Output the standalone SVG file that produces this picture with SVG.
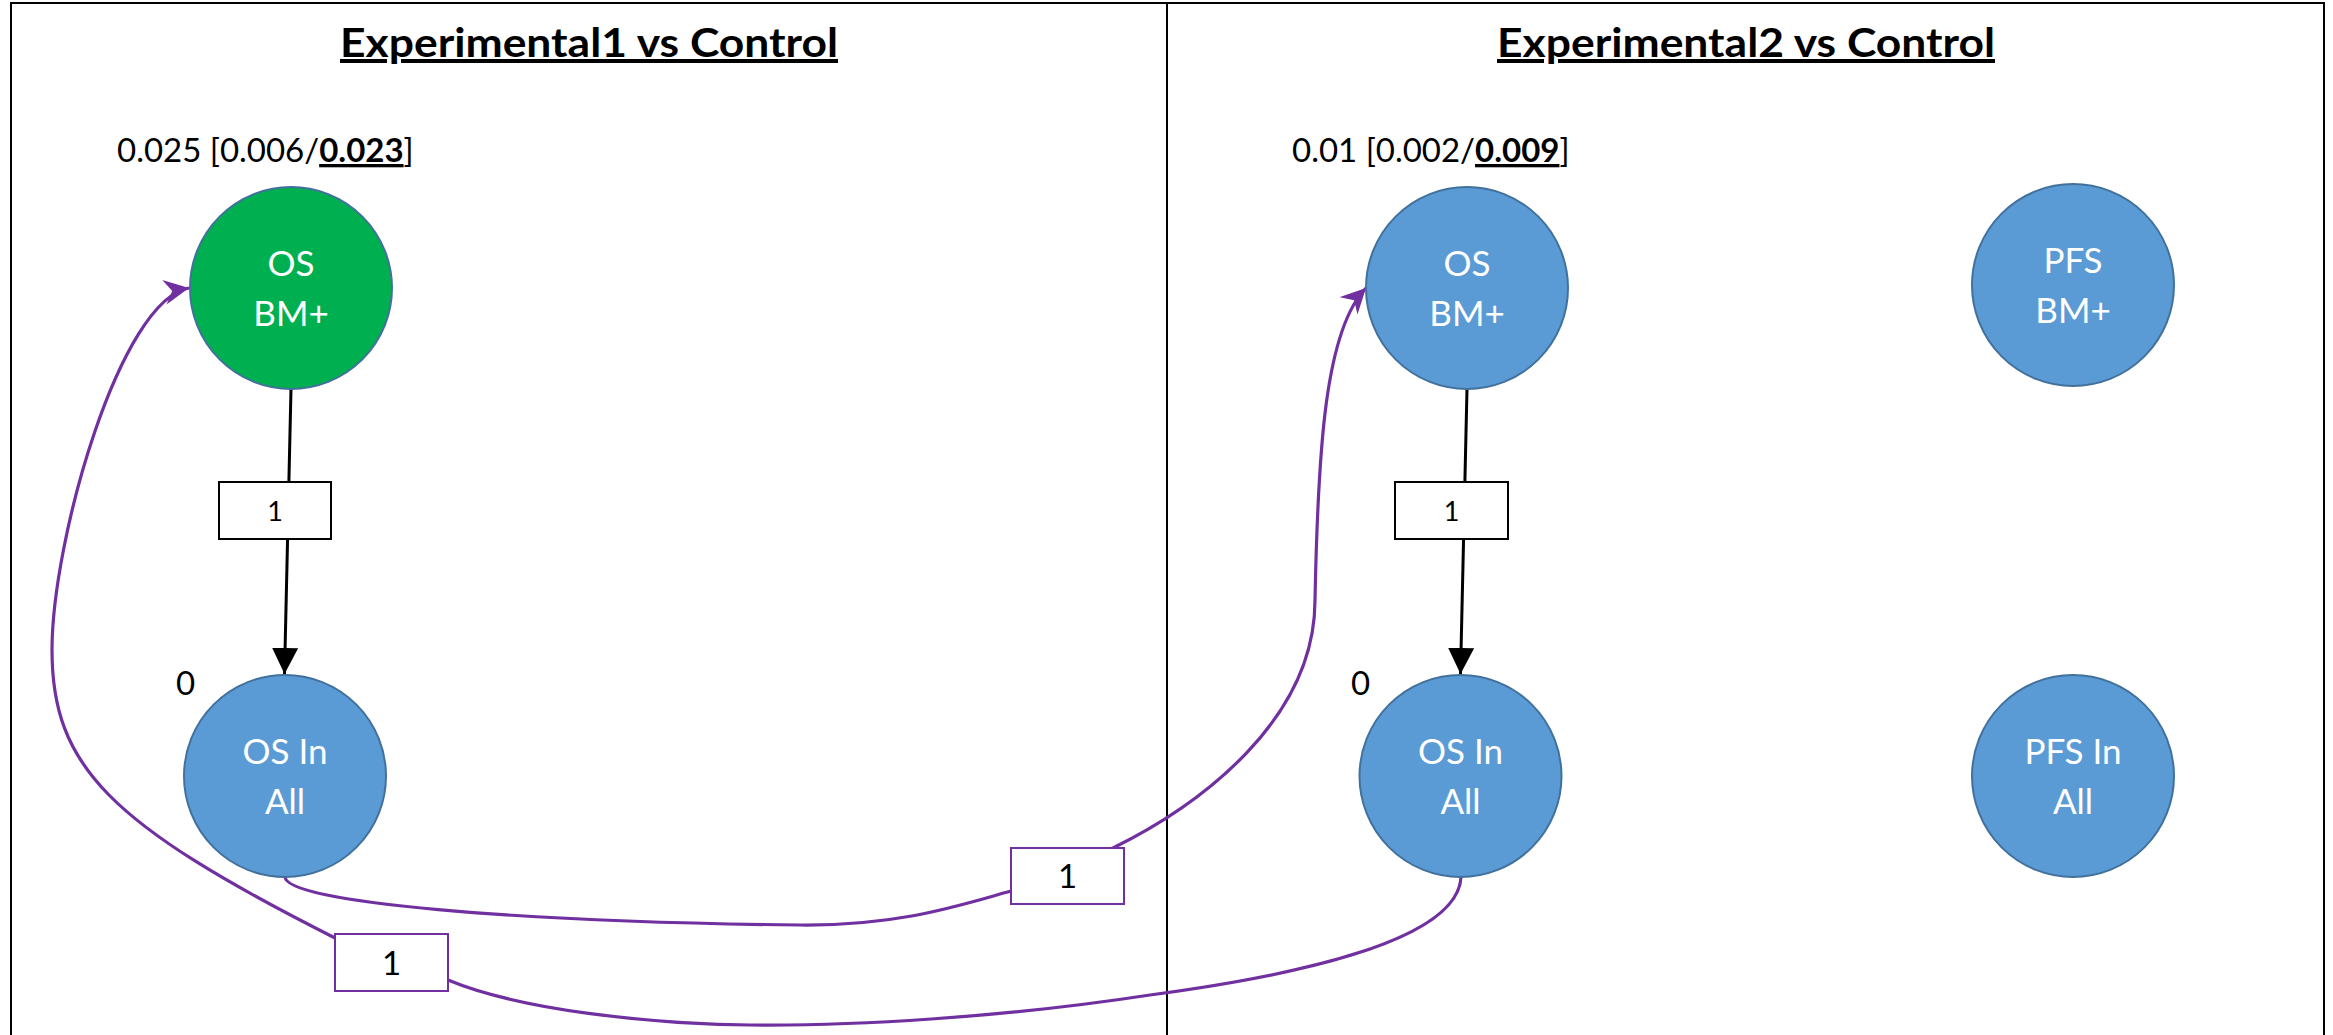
<svg xmlns="http://www.w3.org/2000/svg" width="2333" height="1035" viewBox="0 0 2333 1035">
<style>
.title{font-family:Lato,"Open Sans","Liberation Sans",sans-serif;font-weight:bold;font-size:40px;fill:#000;text-decoration:underline}
.ann{font-family:Lato,"Open Sans","Liberation Sans",sans-serif;font-size:33px;fill:#000}
.b{font-weight:bold;text-decoration:underline}
.node{stroke:#41719C;stroke-width:2}
.blue{fill:#5B9BD5}
.green{fill:#00B050}
.nt{font-family:Lato,"Open Sans","Liberation Sans",sans-serif;font-size:35px;fill:#fff;text-anchor:middle}
.blk{fill:none;stroke:#000;stroke-width:3}
.pur{fill:none;stroke:#7030A0;stroke-width:3.2}
.lb{fill:#fff;stroke:#000;stroke-width:2}
.lp{fill:#fff;stroke:#7030A0;stroke-width:2}
.lt{font-family:Lato,"Open Sans","Liberation Sans",sans-serif;font-size:27px;fill:#000;text-anchor:middle}
.lt2{font-family:Lato,"Open Sans","Liberation Sans",sans-serif;font-size:33px;fill:#000;text-anchor:middle}
.frame{stroke:#000;stroke-width:2;fill:none}
</style>
<defs>
<marker id="ab" markerUnits="userSpaceOnUse" markerWidth="26" markerHeight="26" viewBox="0 0 26 26" refX="26" refY="13" orient="auto">
<path d="M0,0 L26,13 L0,26 Z" fill="#000"/>
</marker>
<marker id="ap" markerUnits="userSpaceOnUse" markerWidth="26" markerHeight="26" viewBox="0 0 26 26" refX="25" refY="12.5" orient="auto">
<path d="M0,0 L25,12.5 L0,25 L8,12.5 Z" fill="#7030A0"/>
</marker>
</defs>
<rect width="2333" height="1035" fill="#fff"/>
<g id="frame">
<line class="frame" x1="11" y1="3" x2="2324" y2="3" stroke-width="3"/>
<line class="frame" x1="11" y1="2" x2="11" y2="1035"/>
<line class="frame" x1="1167" y1="2" x2="1167" y2="1035"/>
<line class="frame" x1="2324" y1="2" x2="2324" y2="1035"/>
</g>
<g id="titles">
<text class="title" x="340" y="57" textLength="498" lengthAdjust="spacingAndGlyphs">Experimental1 vs Control</text>
<text class="title" x="1497" y="57" textLength="498" lengthAdjust="spacingAndGlyphs">Experimental2 vs Control</text>
</g>
<g id="connectors">
<path class="blk" d="M291,389 L284.5,674" marker-end="url(#ab)"/>
<path class="blk" d="M1467,389 L1460.5,674" marker-end="url(#ab)"/>
<path class="pur" d="M285,877 C287,903 520,922 800,925 C900,926 960,905 1011,891 L1113,848 C1200,805 1315,720 1315,600 C1318,450 1325,330 1366,288" marker-end="url(#ap)"/>
<path class="pur" d="M1461,877 C1458,940 1300,975 1150,995 C1000,1018 850,1026 750,1025 C650,1024 520,1010 448,980 L335,938 C109,824 52,766 52,650 C52,540 120,300 189,288" marker-end="url(#ap)"/>
<g id="label-e1">
<rect class="lb" x="219" y="482" width="112" height="57"/>
<text class="lt" x="275" y="521">1</text>
</g>
<g id="label-e2">
<rect class="lb" x="1395" y="482" width="113" height="57"/>
<text class="lt" x="1451.5" y="521">1</text>
</g>
<g id="label-e3">
<rect class="lp" x="1011" y="848" width="113" height="56"/>
<text class="lt2" x="1067.5" y="888">1</text>
</g>
<g id="label-e4">
<rect class="lp" x="335" y="934" width="113" height="57"/>
<text class="lt2" x="391.5" y="975">1</text>
</g>
</g>
<g id="n-os-bm-1">
<text class="ann" x="117" y="162">0.025 [0.006/<tspan class="b">0.023</tspan>]</text>
<circle class="node green" cx="291" cy="288" r="101"/>
<text class="nt" x="291" y="276">OS</text>
<text class="nt" x="291" y="326">BM+</text>
</g>
<g id="n-os-all-1">
<text class="ann" x="176" y="695">0</text>
<circle class="node blue" cx="285" cy="776" r="101"/>
<text class="nt" x="285" y="764">OS In</text>
<text class="nt" x="285" y="814">All</text>
</g>
<g id="n-os-bm-2">
<text class="ann" x="1292" y="162">0.01 [0.002/<tspan class="b">0.009</tspan>]</text>
<circle class="node blue" cx="1467" cy="288" r="101"/>
<text class="nt" x="1467" y="276">OS</text>
<text class="nt" x="1467" y="326">BM+</text>
</g>
<g id="n-os-all-2">
<text class="ann" x="1351" y="695">0</text>
<circle class="node blue" cx="1460.5" cy="776" r="101"/>
<text class="nt" x="1460.5" y="764">OS In</text>
<text class="nt" x="1460.5" y="814">All</text>
</g>
<g id="n-pfs-bm">
<circle class="node blue" cx="2073" cy="285" r="101"/>
<text class="nt" x="2073" y="273">PFS</text>
<text class="nt" x="2073" y="323">BM+</text>
</g>
<g id="n-pfs-all">
<circle class="node blue" cx="2073" cy="776" r="101"/>
<text class="nt" x="2073" y="764">PFS In</text>
<text class="nt" x="2073" y="814">All</text>
</g>
</svg>
